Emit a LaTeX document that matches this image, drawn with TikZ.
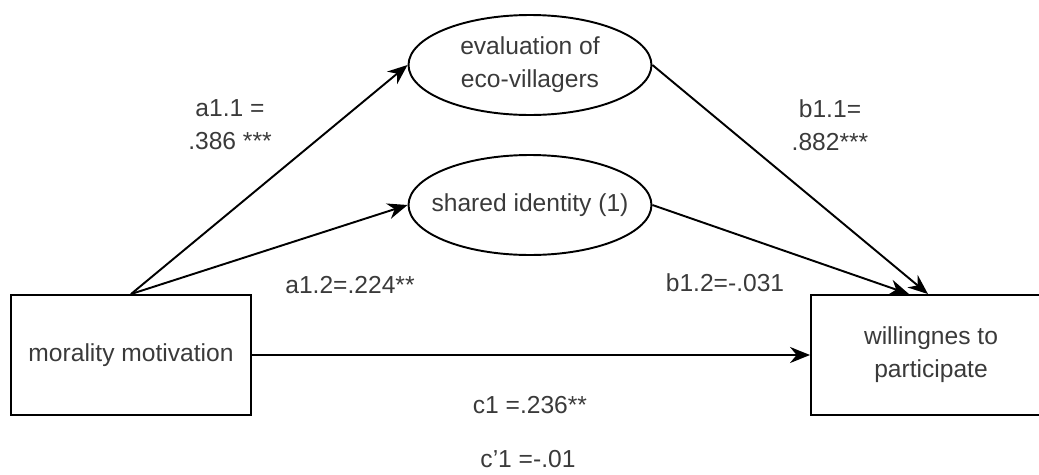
\documentclass[tikz,border=0pt]{standalone}
\usepackage{fontspec}
\setmainfont{Liberation Sans}
\usepackage{xcolor}
\usetikzlibrary{arrows.meta, positioning, calc, shapes.geometric}
\definecolor{labelgrey}{HTML}{3A3A3A}

\begin{document}
\begin{tikzpicture}[x=0.02cm, y=-0.02cm, line width=1.1pt,
    every node/.style={font=\fontsize{14}{18.8}\selectfont, text=labelgrey, align=center},
    every label/.style={font=\fontsize{14}{18.8}\selectfont, text=labelgrey, align=center, inner sep=0pt},
    varbox/.style={rectangle, draw=black, minimum width=4.8cm, minimum height=2.4cm, inner sep=0pt},
    medbox/.style={ellipse, draw=black, minimum width=4.86cm, minimum height=2cm, inner sep=0pt},
    path/.style={-{Stealth[length=4mm, width=3.2mm]}}]
    \useasboundingbox (0,0) rectangle (1039,474);
    \node[varbox] (mor) at (131,355) {morality motivation};
    \node[varbox] (will) at (931,355) {willingnes to\\participate};
    \node[medbox, label=center:{evaluation of\\eco-villagers}] (eval) at (530,65) {};
    \node[medbox, label=center:{shared identity (1)}] (ident) at (530,205) {};
    \draw[path] (mor.north) -- (eval.west);
    \draw[path] (mor.north) -- (ident.west);
    \draw[path] (eval.east) -- ([xshift=-0.06cm]will.north);
    \draw[path] (ident.east) -- ([xshift=-0.44cm]will.north);
    \draw[path] (mor.east) -- (will.west);
    \node (a11) at (230,125) {a1.1 =\\.386 ***};
    \node (a12) at (350,285) {a1.2=.224**};
    \node (b11) at (830,125) {b1.1=\\.882***};
    \node (b12) at (725,283) {b1.2=-.031};
    \node (c1) at (530,405) {c1 =.236**};
    \node (c1p) at (528,459) {c\symbol{"0027}1 =-.01};
\end{tikzpicture}
\end{document}
